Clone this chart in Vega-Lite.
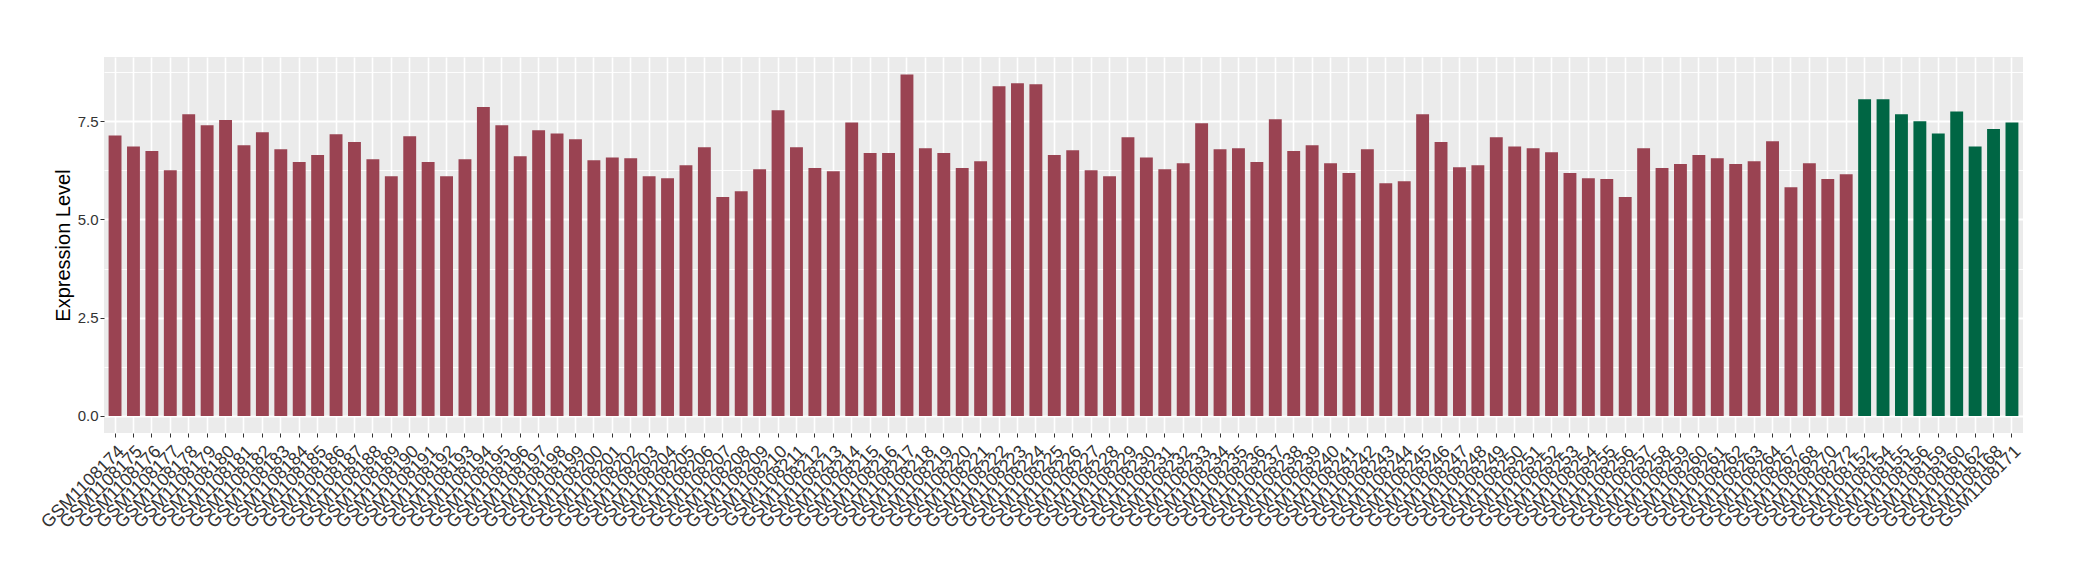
{
  "$schema": "https://vega.github.io/schema/vega-lite/v6.json",
  "width": 1919,
  "height": 376,
  "autosize": {"type": "none"},
  "padding": {"left": 104, "top": 57, "right": 57, "bottom": 147},
  "background": "white",
  "view": {"fill": "#EBEBEB", "stroke": null},
  "data": {
    "values": [
      {"sample": "GSM1108174", "value": 7.14, "group": "A"},
      {"sample": "GSM1108175", "value": 6.86, "group": "A"},
      {"sample": "GSM1108176", "value": 6.74, "group": "A"},
      {"sample": "GSM1108177", "value": 6.25, "group": "A"},
      {"sample": "GSM1108178", "value": 7.68, "group": "A"},
      {"sample": "GSM1108179", "value": 7.40, "group": "A"},
      {"sample": "GSM1108180", "value": 7.53, "group": "A"},
      {"sample": "GSM1108181", "value": 6.89, "group": "A"},
      {"sample": "GSM1108182", "value": 7.22, "group": "A"},
      {"sample": "GSM1108183", "value": 6.79, "group": "A"},
      {"sample": "GSM1108184", "value": 6.46, "group": "A"},
      {"sample": "GSM1108185", "value": 6.64, "group": "A"},
      {"sample": "GSM1108186", "value": 7.17, "group": "A"},
      {"sample": "GSM1108187", "value": 6.97, "group": "A"},
      {"sample": "GSM1108188", "value": 6.53, "group": "A"},
      {"sample": "GSM1108189", "value": 6.10, "group": "A"},
      {"sample": "GSM1108190", "value": 7.12, "group": "A"},
      {"sample": "GSM1108191", "value": 6.46, "group": "A"},
      {"sample": "GSM1108192", "value": 6.10, "group": "A"},
      {"sample": "GSM1108193", "value": 6.53, "group": "A"},
      {"sample": "GSM1108194", "value": 7.86, "group": "A"},
      {"sample": "GSM1108195", "value": 7.40, "group": "A"},
      {"sample": "GSM1108196", "value": 6.61, "group": "A"},
      {"sample": "GSM1108197", "value": 7.27, "group": "A"},
      {"sample": "GSM1108198", "value": 7.19, "group": "A"},
      {"sample": "GSM1108199", "value": 7.04, "group": "A"},
      {"sample": "GSM1108200", "value": 6.51, "group": "A"},
      {"sample": "GSM1108201", "value": 6.58, "group": "A"},
      {"sample": "GSM1108202", "value": 6.56, "group": "A"},
      {"sample": "GSM1108203", "value": 6.10, "group": "A"},
      {"sample": "GSM1108204", "value": 6.05, "group": "A"},
      {"sample": "GSM1108205", "value": 6.38, "group": "A"},
      {"sample": "GSM1108206", "value": 6.84, "group": "A"},
      {"sample": "GSM1108207", "value": 5.57, "group": "A"},
      {"sample": "GSM1108208", "value": 5.72, "group": "A"},
      {"sample": "GSM1108209", "value": 6.28, "group": "A"},
      {"sample": "GSM1108210", "value": 7.78, "group": "A"},
      {"sample": "GSM1108211", "value": 6.84, "group": "A"},
      {"sample": "GSM1108212", "value": 6.31, "group": "A"},
      {"sample": "GSM1108213", "value": 6.23, "group": "A"},
      {"sample": "GSM1108214", "value": 7.47, "group": "A"},
      {"sample": "GSM1108215", "value": 6.69, "group": "A"},
      {"sample": "GSM1108216", "value": 6.69, "group": "A"},
      {"sample": "GSM1108217", "value": 8.69, "group": "A"},
      {"sample": "GSM1108218", "value": 6.81, "group": "A"},
      {"sample": "GSM1108219", "value": 6.69, "group": "A"},
      {"sample": "GSM1108220", "value": 6.31, "group": "A"},
      {"sample": "GSM1108221", "value": 6.48, "group": "A"},
      {"sample": "GSM1108222", "value": 8.39, "group": "A"},
      {"sample": "GSM1108223", "value": 8.47, "group": "A"},
      {"sample": "GSM1108224", "value": 8.44, "group": "A"},
      {"sample": "GSM1108225", "value": 6.64, "group": "A"},
      {"sample": "GSM1108226", "value": 6.76, "group": "A"},
      {"sample": "GSM1108227", "value": 6.25, "group": "A"},
      {"sample": "GSM1108228", "value": 6.10, "group": "A"},
      {"sample": "GSM1108229", "value": 7.09, "group": "A"},
      {"sample": "GSM1108230", "value": 6.58, "group": "A"},
      {"sample": "GSM1108231", "value": 6.28, "group": "A"},
      {"sample": "GSM1108232", "value": 6.43, "group": "A"},
      {"sample": "GSM1108233", "value": 7.45, "group": "A"},
      {"sample": "GSM1108234", "value": 6.79, "group": "A"},
      {"sample": "GSM1108235", "value": 6.81, "group": "A"},
      {"sample": "GSM1108236", "value": 6.46, "group": "A"},
      {"sample": "GSM1108237", "value": 7.55, "group": "A"},
      {"sample": "GSM1108238", "value": 6.74, "group": "A"},
      {"sample": "GSM1108239", "value": 6.89, "group": "A"},
      {"sample": "GSM1108240", "value": 6.43, "group": "A"},
      {"sample": "GSM1108241", "value": 6.18, "group": "A"},
      {"sample": "GSM1108242", "value": 6.79, "group": "A"},
      {"sample": "GSM1108243", "value": 5.92, "group": "A"},
      {"sample": "GSM1108244", "value": 5.97, "group": "A"},
      {"sample": "GSM1108245", "value": 7.68, "group": "A"},
      {"sample": "GSM1108246", "value": 6.97, "group": "A"},
      {"sample": "GSM1108247", "value": 6.33, "group": "A"},
      {"sample": "GSM1108248", "value": 6.38, "group": "A"},
      {"sample": "GSM1108249", "value": 7.09, "group": "A"},
      {"sample": "GSM1108250", "value": 6.86, "group": "A"},
      {"sample": "GSM1108251", "value": 6.81, "group": "A"},
      {"sample": "GSM1108252", "value": 6.71, "group": "A"},
      {"sample": "GSM1108253", "value": 6.18, "group": "A"},
      {"sample": "GSM1108254", "value": 6.05, "group": "A"},
      {"sample": "GSM1108255", "value": 6.03, "group": "A"},
      {"sample": "GSM1108256", "value": 5.57, "group": "A"},
      {"sample": "GSM1108257", "value": 6.81, "group": "A"},
      {"sample": "GSM1108258", "value": 6.31, "group": "A"},
      {"sample": "GSM1108259", "value": 6.41, "group": "A"},
      {"sample": "GSM1108260", "value": 6.64, "group": "A"},
      {"sample": "GSM1108261", "value": 6.56, "group": "A"},
      {"sample": "GSM1108262", "value": 6.41, "group": "A"},
      {"sample": "GSM1108263", "value": 6.48, "group": "A"},
      {"sample": "GSM1108264", "value": 6.99, "group": "A"},
      {"sample": "GSM1108267", "value": 5.82, "group": "A"},
      {"sample": "GSM1108268", "value": 6.43, "group": "A"},
      {"sample": "GSM1108270", "value": 6.03, "group": "A"},
      {"sample": "GSM1108272", "value": 6.15, "group": "A"},
      {"sample": "GSM1108152", "value": 8.06, "group": "B"},
      {"sample": "GSM1108154", "value": 8.06, "group": "B"},
      {"sample": "GSM1108155", "value": 7.68, "group": "B"},
      {"sample": "GSM1108156", "value": 7.50, "group": "B"},
      {"sample": "GSM1108159", "value": 7.19, "group": "B"},
      {"sample": "GSM1108160", "value": 7.75, "group": "B"},
      {"sample": "GSM1108162", "value": 6.86, "group": "B"},
      {"sample": "GSM1108168", "value": 7.30, "group": "B"},
      {"sample": "GSM1108171", "value": 7.47, "group": "B"}
    ]
  },
  "mark": {"type": "bar"},
  "encoding": {
    "x": {
      "field": "sample",
      "type": "nominal",
      "sort": null,
      "scale": {"paddingInner": 0.3, "paddingOuter": 0.25},
      "axis": {
        "title": null,
        "bandPosition": 0.5,
        "labelAngle": -45,
        "labelAlign": "right",
        "labelBaseline": "top",
        "labelFont": "Liberation Sans",
        "labelFontSize": 17.8,
        "labelColor": "#333333",
        "labelPadding": 5,
        "labelOverlap": false,
        "labelBound": false,
        "domain": false,
        "ticks": true,
        "tickSize": 4,
        "tickColor": "#333333",
        "tickWidth": 1,
        "grid": true,
        "gridColor": "#FFFFFF",
        "gridWidth": 1.6,
        "zindex": 0
      }
    },
    "y": {
      "field": "value",
      "type": "quantitative",
      "scale": {"domain": [-0.435, 9.135], "nice": false, "zero": false},
      "axis": {
        "title": "Expression Level",
        "titleFont": "Liberation Sans",
        "titleFontSize": 20,
        "titleFontWeight": "normal",
        "titleColor": "#000000",
        "titlePadding": 4,
        "values": [0, 1.25, 2.5, 3.75, 5, 6.25, 7.5, 8.75],
        "labelExpr": "datum.value % 2.5 === 0 ? format(datum.value, '.1f') : ''",
        "labelFont": "Liberation Sans",
        "labelFontSize": 15,
        "labelColor": "#333333",
        "labelPadding": 2,
        "domain": false,
        "tickSize": 4,
        "tickColor": "#333333",
        "tickOpacity": {"condition": {"test": "datum.value % 2.5 !== 0", "value": 0}, "value": 1},
        "grid": true,
        "gridColor": "#FFFFFF",
        "gridWidth": {"condition": {"test": "datum.value % 2.5 !== 0", "value": 0.9}, "value": 1.8},
        "zindex": 0
      }
    },
    "y2": {"datum": 0},
    "color": {
      "field": "group",
      "type": "nominal",
      "scale": {"domain": ["A", "B"], "range": ["#9A4352", "#006644"]},
      "legend": null
    }
  }
}
